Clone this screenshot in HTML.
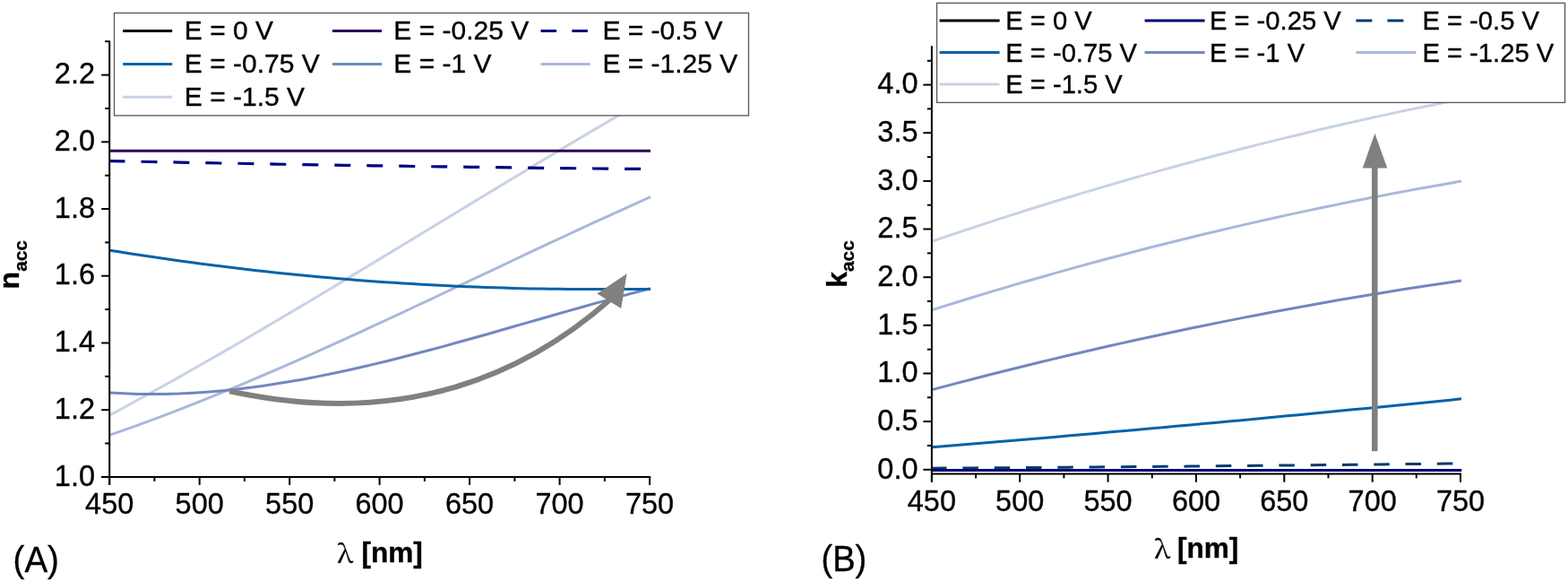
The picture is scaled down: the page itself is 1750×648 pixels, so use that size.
<!DOCTYPE html><html><head><meta charset="utf-8"><style>html,body{margin:0;padding:0;background:#fff;}svg{display:block}</style></head><body>
<svg width="1750" height="648" viewBox="0 0 1750 648" font-family='"Liberation Sans", Arial, sans-serif'><style>text{stroke:#000;stroke-width:0.35px}</style>
<rect width="1750" height="648" fill="#fff"/>
<g fill="none" stroke-linejoin="round">
<path d="M122.5,463.1 L138.0,454.8 L153.4,446.3 L168.9,437.8 L184.4,429.2 L199.9,420.6 L215.3,411.8 L230.8,403.0 L246.3,394.1 L261.8,385.2 L277.2,376.2 L292.7,367.1 L308.2,358.0 L323.7,348.9 L339.1,339.7 L354.6,330.5 L370.1,321.2 L385.6,311.9 L401.0,302.6 L416.5,293.2 L432.0,283.9 L447.5,274.5 L462.9,265.1 L478.4,255.7 L493.9,246.4 L509.4,237.0 L524.8,227.6 L540.3,218.2 L555.8,208.9 L571.3,199.5 L586.7,190.2 L602.2,180.9 L617.7,171.7 L633.2,162.4 L648.6,153.2 L664.1,144.1 L679.6,135.0 L695.1,126.0 L710.5,117.0 L726.0,108.0" stroke="#c8d2e6" stroke-width="3"/>
<path d="M122.5,485.2 L138.0,479.8 L153.4,474.3 L168.9,468.7 L184.4,462.9 L199.9,456.9 L215.3,450.9 L230.8,444.7 L246.3,438.4 L261.8,432.1 L277.2,425.6 L292.7,419.0 L308.2,412.3 L323.7,405.6 L339.1,398.8 L354.6,391.9 L370.1,384.9 L385.6,377.9 L401.0,370.8 L416.5,363.7 L432.0,356.5 L447.5,349.3 L462.9,342.0 L478.4,334.8 L493.9,327.5 L509.4,320.2 L524.8,312.9 L540.3,305.6 L555.8,298.3 L571.3,291.0 L586.7,283.7 L602.2,276.4 L617.7,269.2 L633.2,262.0 L648.6,254.8 L664.1,247.7 L679.6,240.6 L695.1,233.6 L710.5,226.6 L726.0,219.7" stroke="#a8b8da" stroke-width="3"/>
<path d="M122.5,437.9 L138.0,438.8 L153.4,439.4 L168.9,439.6 L184.4,439.5 L199.9,439.1 L215.3,438.3 L230.8,437.3 L246.3,436.0 L261.8,434.4 L277.2,432.5 L292.7,430.5 L308.2,428.1 L323.7,425.6 L339.1,422.9 L354.6,419.9 L370.1,416.8 L385.6,413.5 L401.0,410.0 L416.5,406.4 L432.0,402.7 L447.5,398.8 L462.9,394.8 L478.4,390.7 L493.9,386.6 L509.4,382.3 L524.8,378.0 L540.3,373.7 L555.8,369.3 L571.3,364.8 L586.7,360.4 L602.2,356.0 L617.7,351.5 L633.2,347.1 L648.6,342.7 L664.1,338.4 L679.6,334.1 L695.1,329.9 L710.5,325.8 L726.0,321.8" stroke="#7088c0" stroke-width="3"/>
<path d="M122.5,279.2 L132.7,280.8 L143.0,282.4 L153.2,284.0 L163.4,285.6 L173.6,287.1 L183.9,288.6 L194.1,290.0 L204.3,291.4 L214.6,292.8 L224.8,294.2 L235.0,295.5 L245.2,296.8 L255.5,298.1 L265.7,299.3 L275.9,300.5 L286.2,301.7 L296.4,302.8 L306.6,303.9 L316.8,305.0 L327.1,306.0 L337.3,307.0 L347.5,308.0 L357.8,308.9 L368.0,309.8 L378.2,310.7 L388.4,311.6 L398.7,312.4 L408.9,313.2 L419.1,313.9 L429.4,314.7 L439.6,315.3 L449.8,316.0 L460.1,316.6 L470.3,317.2 L480.5,317.8 L490.7,318.3 L501.0,318.8 L511.2,319.3 L521.4,319.7 L531.7,320.1 L541.9,320.5 L552.1,320.8 L562.3,321.1 L572.6,321.4 L582.8,321.7 L593.0,321.9 L603.3,322.1 L613.5,322.2 L623.7,322.3 L633.9,322.4 L644.2,322.5 L654.4,322.5 L664.6,322.5 L674.9,322.5 L685.1,322.5 L695.3,322.5 L705.5,322.5 L715.8,322.5 L726.0,322.5" stroke="#0562a8" stroke-width="3"/>
<path d="M123.0,179.6 L138.4,179.9 L153.9,180.2 L169.3,180.5 L184.7,180.8 L200.2,181.1 L215.6,181.4 L231.1,181.7 L246.5,182.0 L261.9,182.2 L277.4,182.5 L292.8,182.8 L308.2,183.1 L323.7,183.3 L339.1,183.6 L354.5,183.8 L370.0,184.1 L385.4,184.3 L400.8,184.6 L416.3,184.8 L431.7,185.0 L447.2,185.2 L462.6,185.5 L478.0,185.7 L493.5,185.9 L508.9,186.1 L524.3,186.3 L539.8,186.5 L555.2,186.7 L570.6,186.9 L586.1,187.1 L601.5,187.3 L616.9,187.5 L632.4,187.6 L647.8,187.8 L663.3,188.0 L678.7,188.1 L694.1,188.3 L709.6,188.4 L725.0,188.6" stroke="#000080" stroke-width="3.2" stroke-dasharray="18 17.98" stroke-dashoffset="1.5"/>
<path d="M122.5,168.2 L726,168.2" stroke="#2b0058" stroke-width="3"/>
</g>
<path d="M256.2,436.2 C413.5,470.2 558.1,442.6 681,334" fill="none" stroke="#808080" stroke-width="6"/>
<polygon points="699.6,305.3 666.4,327.6 693.2,344.1" fill="#808080"/>
<g stroke="#000" stroke-width="2" fill="none">
<path d="M122.2,45.4 L122.2,541 M113,531.9 L726.3,531.9"/>
<path d="M113.2,531.9 L122.2,531.9"/>
<path d="M117.2,494.5 L122.2,494.5"/>
<path d="M113.2,457.2 L122.2,457.2"/>
<path d="M117.2,419.8 L122.2,419.8"/>
<path d="M113.2,382.5 L122.2,382.5"/>
<path d="M117.2,345.1 L122.2,345.1"/>
<path d="M113.2,307.7 L122.2,307.7"/>
<path d="M117.2,270.4 L122.2,270.4"/>
<path d="M113.2,233.0 L122.2,233.0"/>
<path d="M117.2,195.7 L122.2,195.7"/>
<path d="M113.2,158.3 L122.2,158.3"/>
<path d="M117.2,120.9 L122.2,120.9"/>
<path d="M113.2,83.6 L122.2,83.6"/>
<path d="M117.2,46.2 L122.2,46.2"/>
<path d="M122.2,531.9 L122.2,540.9"/>
<path d="M172.4,531.9 L172.4,536.9"/>
<path d="M222.7,531.9 L222.7,540.9"/>
<path d="M272.9,531.9 L272.9,536.9"/>
<path d="M323.2,531.9 L323.2,540.9"/>
<path d="M373.4,531.9 L373.4,536.9"/>
<path d="M423.6,531.9 L423.6,540.9"/>
<path d="M473.9,531.9 L473.9,536.9"/>
<path d="M524.1,531.9 L524.1,540.9"/>
<path d="M574.4,531.9 L574.4,536.9"/>
<path d="M624.6,531.9 L624.6,540.9"/>
<path d="M674.9,531.9 L674.9,536.9"/>
<path d="M725.1,531.9 L725.1,540.9"/>
</g>
<g font-size="32.5" fill="#000">
<text x="106" y="541.5" text-anchor="end">1.0</text>
<text x="106" y="466.8" text-anchor="end">1.2</text>
<text x="106" y="392.1" text-anchor="end">1.4</text>
<text x="106" y="317.3" text-anchor="end">1.6</text>
<text x="106" y="242.6" text-anchor="end">1.8</text>
<text x="106" y="167.9" text-anchor="end">2.0</text>
<text x="106" y="93.2" text-anchor="end">2.2</text>
<text x="122.2" y="573.4" text-anchor="middle">450</text>
<text x="222.7" y="573.4" text-anchor="middle">500</text>
<text x="323.2" y="573.4" text-anchor="middle">550</text>
<text x="423.6" y="573.4" text-anchor="middle">600</text>
<text x="524.1" y="573.4" text-anchor="middle">650</text>
<text x="624.6" y="573.4" text-anchor="middle">700</text>
<text x="725.1" y="573.4" text-anchor="middle">750</text>
</g>
<text transform="translate(21.3,322.4) rotate(-90)" font-size="32" font-weight="bold">n<tspan font-size="20.8" dy="8.5">acc</tspan></text>
<text transform="translate(376.2,627.6) scale(1.08,1)" font-size="28.5" font-family="'Noto Serif CJK SC', 'Liberation Serif', serif">λ</text>
<text x="471.9" y="627.2" font-size="31.6" font-weight="bold" text-anchor="end">[nm]</text>
<text transform="translate(14.6,638.1) scale(0.94,1)" font-size="41">(A)</text>
<rect x="127.5" y="14.5" width="708" height="114.4" fill="#fff" stroke="#555" stroke-width="1.3"/>
<path d="M137.2,34.5 L192.2,34.5" stroke="#000000" stroke-width="3"/>
<text x="205.8" y="43.8" font-size="30">E = 0 V</text>
<path d="M371,34.5 L426,34.5" stroke="#2b0058" stroke-width="3"/>
<text x="439.3" y="43.8" font-size="30">E = -0.25 V</text>
<path d="M603.6,34.5 L658.6,34.5" stroke="#000080" stroke-width="3" stroke-dasharray="17.5 17.3"/>
<text x="672.4" y="43.8" font-size="30">E = -0.5 V</text>
<path d="M137.2,71.5 L192.2,71.5" stroke="#0562a8" stroke-width="3"/>
<text x="205.8" y="80.8" font-size="30">E = -0.75 V</text>
<path d="M371,71.5 L426,71.5" stroke="#7088c0" stroke-width="3"/>
<text x="439.3" y="80.8" font-size="30">E = -1 V</text>
<path d="M603.6,71.5 L658.6,71.5" stroke="#a8b8da" stroke-width="3"/>
<text x="672.4" y="80.8" font-size="30">E = -1.25 V</text>
<path d="M137.2,108.3 L192.2,108.3" stroke="#c8d2e6" stroke-width="3"/>
<text x="205.8" y="117.6" font-size="30">E = -1.5 V</text>
<g fill="none">
<path d="M1040.5,269.1 L1055.6,263.9 L1070.8,258.8 L1085.9,253.8 L1101.1,248.8 L1116.2,243.9 L1131.3,239.1 L1146.5,234.3 L1161.6,229.5 L1176.8,224.8 L1191.9,220.2 L1207.1,215.6 L1222.2,211.1 L1237.3,206.7 L1252.5,202.3 L1267.6,197.9 L1282.8,193.6 L1297.9,189.4 L1313.0,185.2 L1328.2,181.1 L1343.3,177.0 L1358.5,173.0 L1373.6,169.1 L1388.7,165.2 L1403.9,161.4 L1419.0,157.6 L1434.2,153.9 L1449.3,150.2 L1464.4,146.6 L1479.6,143.0 L1494.7,139.5 L1509.9,136.1 L1525.0,132.7 L1540.2,129.4 L1555.3,126.1 L1570.4,122.9 L1585.6,119.8 L1600.7,116.7 L1615.9,113.6 L1631.0,110.6" stroke="#c8d2e6" stroke-width="3"/>
<path d="M1040.5,345.6 L1055.6,340.9 L1070.8,336.2 L1085.9,331.5 L1101.1,326.9 L1116.2,322.4 L1131.3,317.9 L1146.5,313.5 L1161.6,309.2 L1176.8,304.9 L1191.9,300.6 L1207.1,296.4 L1222.2,292.3 L1237.3,288.2 L1252.5,284.2 L1267.6,280.2 L1282.8,276.3 L1297.9,272.5 L1313.0,268.7 L1328.2,265.0 L1343.3,261.3 L1358.5,257.7 L1373.6,254.1 L1388.7,250.6 L1403.9,247.1 L1419.0,243.7 L1434.2,240.4 L1449.3,237.1 L1464.4,233.9 L1479.6,230.7 L1494.7,227.6 L1509.9,224.5 L1525.0,221.5 L1540.2,218.6 L1555.3,215.7 L1570.4,212.9 L1585.6,210.1 L1600.7,207.4 L1615.9,204.7 L1631.0,202.1" stroke="#a8b8da" stroke-width="3"/>
<path d="M1040.5,434.6 L1055.6,430.6 L1070.8,426.6 L1085.9,422.7 L1101.1,418.8 L1116.2,415.0 L1131.3,411.2 L1146.5,407.5 L1161.6,403.8 L1176.8,400.1 L1191.9,396.5 L1207.1,393.0 L1222.2,389.5 L1237.3,386.0 L1252.5,382.6 L1267.6,379.3 L1282.8,376.0 L1297.9,372.7 L1313.0,369.5 L1328.2,366.3 L1343.3,363.2 L1358.5,360.1 L1373.6,357.1 L1388.7,354.1 L1403.9,351.2 L1419.0,348.3 L1434.2,345.5 L1449.3,342.7 L1464.4,340.0 L1479.6,337.3 L1494.7,334.6 L1509.9,332.0 L1525.0,329.5 L1540.2,327.0 L1555.3,324.5 L1570.4,322.1 L1585.6,319.8 L1600.7,317.4 L1615.9,315.2 L1631.0,313.0" stroke="#7088c0" stroke-width="3"/>
<path d="M1040.5,498.8 L1055.6,497.6 L1070.8,496.3 L1085.9,495.1 L1101.1,493.8 L1116.2,492.6 L1131.3,491.3 L1146.5,490.0 L1161.6,488.7 L1176.8,487.4 L1191.9,486.1 L1207.1,484.8 L1222.2,483.4 L1237.3,482.1 L1252.5,480.8 L1267.6,479.4 L1282.8,478.1 L1297.9,476.7 L1313.0,475.3 L1328.2,473.9 L1343.3,472.6 L1358.5,471.2 L1373.6,469.8 L1388.7,468.4 L1403.9,466.9 L1419.0,465.5 L1434.2,464.1 L1449.3,462.7 L1464.4,461.2 L1479.6,459.8 L1494.7,458.3 L1509.9,456.8 L1525.0,455.4 L1540.2,453.9 L1555.3,452.4 L1570.4,450.9 L1585.6,449.4 L1600.7,447.9 L1615.9,446.4 L1631.0,444.8" stroke="#0562a8" stroke-width="3"/>
<path d="M1040.5,522.2 L1055.6,522.1 L1070.8,522.0 L1085.9,521.9 L1101.1,521.8 L1116.2,521.7 L1131.3,521.6 L1146.5,521.5 L1161.6,521.4 L1176.8,521.3 L1191.9,521.2 L1207.1,521.0 L1222.2,520.9 L1237.3,520.8 L1252.5,520.7 L1267.6,520.6 L1282.8,520.4 L1297.9,520.3 L1313.0,520.2 L1328.2,520.1 L1343.3,519.9 L1358.5,519.8 L1373.6,519.6 L1388.7,519.5 L1403.9,519.3 L1419.0,519.2 L1434.2,519.0 L1449.3,518.9 L1464.4,518.7 L1479.6,518.6 L1494.7,518.4 L1509.9,518.3 L1525.0,518.1 L1540.2,517.9 L1555.3,517.8 L1570.4,517.6 L1585.6,517.4 L1600.7,517.2 L1615.9,517.0 L1631.0,516.9" stroke="#053a6e" stroke-width="3" stroke-dasharray="17.5 17.8" stroke-dashoffset="1.4"/>
<path d="M1040.5,524.4 L1631.3,524.4" stroke="#000078" stroke-width="3"/>
</g>
<path d="M1534.3,503.2 L1534.3,185" stroke="#808080" stroke-width="6.6"/>
<polygon points="1534.4,148.8 1520.8,187.4 1548.3,187.4" fill="#808080"/>
<g stroke="#000" stroke-width="2" fill="none">
<path d="M1039.9,51.2 L1039.9,537.5 M1039.9,528.4 L1631,528.4"/>
<path d="M1030.4,523.8 L1039.9,523.8"/>
<path d="M1034.9,497.0 L1039.9,497.0"/>
<path d="M1030.4,470.1 L1039.9,470.1"/>
<path d="M1034.9,443.3 L1039.9,443.3"/>
<path d="M1030.4,416.5 L1039.9,416.5"/>
<path d="M1034.9,389.7 L1039.9,389.7"/>
<path d="M1030.4,362.8 L1039.9,362.8"/>
<path d="M1034.9,336.0 L1039.9,336.0"/>
<path d="M1030.4,309.2 L1039.9,309.2"/>
<path d="M1034.9,282.4 L1039.9,282.4"/>
<path d="M1030.4,255.5 L1039.9,255.5"/>
<path d="M1034.9,228.7 L1039.9,228.7"/>
<path d="M1030.4,201.9 L1039.9,201.9"/>
<path d="M1034.9,175.1 L1039.9,175.1"/>
<path d="M1030.4,148.2 L1039.9,148.2"/>
<path d="M1034.9,121.4 L1039.9,121.4"/>
<path d="M1030.4,94.6 L1039.9,94.6"/>
<path d="M1034.9,67.8 L1039.9,67.8"/>
<path d="M1039.9,528.4 L1039.9,537.7"/>
<path d="M1089.1,528.4 L1089.1,533.4"/>
<path d="M1138.2,528.4 L1138.2,537.7"/>
<path d="M1187.4,528.4 L1187.4,533.4"/>
<path d="M1236.6,528.4 L1236.6,537.7"/>
<path d="M1285.8,528.4 L1285.8,533.4"/>
<path d="M1335.0,528.4 L1335.0,537.7"/>
<path d="M1384.1,528.4 L1384.1,533.4"/>
<path d="M1433.3,528.4 L1433.3,537.7"/>
<path d="M1482.5,528.4 L1482.5,533.4"/>
<path d="M1531.7,528.4 L1531.7,537.7"/>
<path d="M1580.8,528.4 L1580.8,533.4"/>
<path d="M1630.0,528.4 L1630.0,537.7"/>
</g>
<g font-size="32.5" fill="#000">
<text x="1024.5" y="533.6" text-anchor="end">0.0</text>
<text x="1024.5" y="479.9" text-anchor="end">0.5</text>
<text x="1024.5" y="426.3" text-anchor="end">1.0</text>
<text x="1024.5" y="372.6" text-anchor="end">1.5</text>
<text x="1024.5" y="319.0" text-anchor="end">2.0</text>
<text x="1024.5" y="265.3" text-anchor="end">2.5</text>
<text x="1024.5" y="211.7" text-anchor="end">3.0</text>
<text x="1024.5" y="158.0" text-anchor="end">3.5</text>
<text x="1024.5" y="104.4" text-anchor="end">4.0</text>
<text x="1039.9" y="569.7" text-anchor="middle">450</text>
<text x="1138.2" y="569.7" text-anchor="middle">500</text>
<text x="1236.6" y="569.7" text-anchor="middle">550</text>
<text x="1335.0" y="569.7" text-anchor="middle">600</text>
<text x="1433.3" y="569.7" text-anchor="middle">650</text>
<text x="1531.7" y="569.7" text-anchor="middle">700</text>
<text x="1630.0" y="569.7" text-anchor="middle">750</text>
</g>
<text transform="translate(944.7,320.8) rotate(-90)" font-size="32" font-weight="bold">k<tspan font-size="20.8" dy="8.5">acc</tspan></text>
<text transform="translate(1288.2,622.8) scale(1.08,1)" font-size="28.5" font-family="'Noto Serif CJK SC', 'Liberation Serif', serif">λ</text>
<text x="1382.4" y="622.2" font-size="31.6" font-weight="bold" text-anchor="end">[nm]</text>
<text transform="translate(916.5,636.5) scale(0.93,1)" font-size="41">(B)</text>
<rect x="1045.6" y="3.4" width="701" height="111" fill="#fff" stroke="#555" stroke-width="1.3"/>
<path d="M1048.6,23.0 L1115.6,23.0" stroke="#000000" stroke-width="3"/>
<text x="1122.2" y="33.0" font-size="29.2">E = 0 V</text>
<path d="M1277.6,23.0 L1344.6,23.0" stroke="#000078" stroke-width="3"/>
<text x="1349.9" y="33.0" font-size="29.2">E = -0.25 V</text>
<path d="M1513.4,23.0 L1580.4,23.0" stroke="#053a6e" stroke-width="3" stroke-dasharray="18 17"/>
<text x="1587.4" y="33.0" font-size="29.2">E = -0.5 V</text>
<path d="M1048.6,58.5 L1115.6,58.5" stroke="#0562a8" stroke-width="3"/>
<text x="1122.2" y="68.5" font-size="29.2">E = -0.75 V</text>
<path d="M1277.6,58.5 L1344.6,58.5" stroke="#7088c0" stroke-width="3"/>
<text x="1349.9" y="68.5" font-size="29.2">E = -1 V</text>
<path d="M1513.4,58.5 L1580.4,58.5" stroke="#a8b8da" stroke-width="3"/>
<text x="1587.4" y="68.5" font-size="29.2">E = -1.25 V</text>
<path d="M1048.6,94.0 L1115.6,94.0" stroke="#c8d2e6" stroke-width="3"/>
<text x="1122.2" y="104.0" font-size="29.2">E = -1.5 V</text>
</svg></body></html>
